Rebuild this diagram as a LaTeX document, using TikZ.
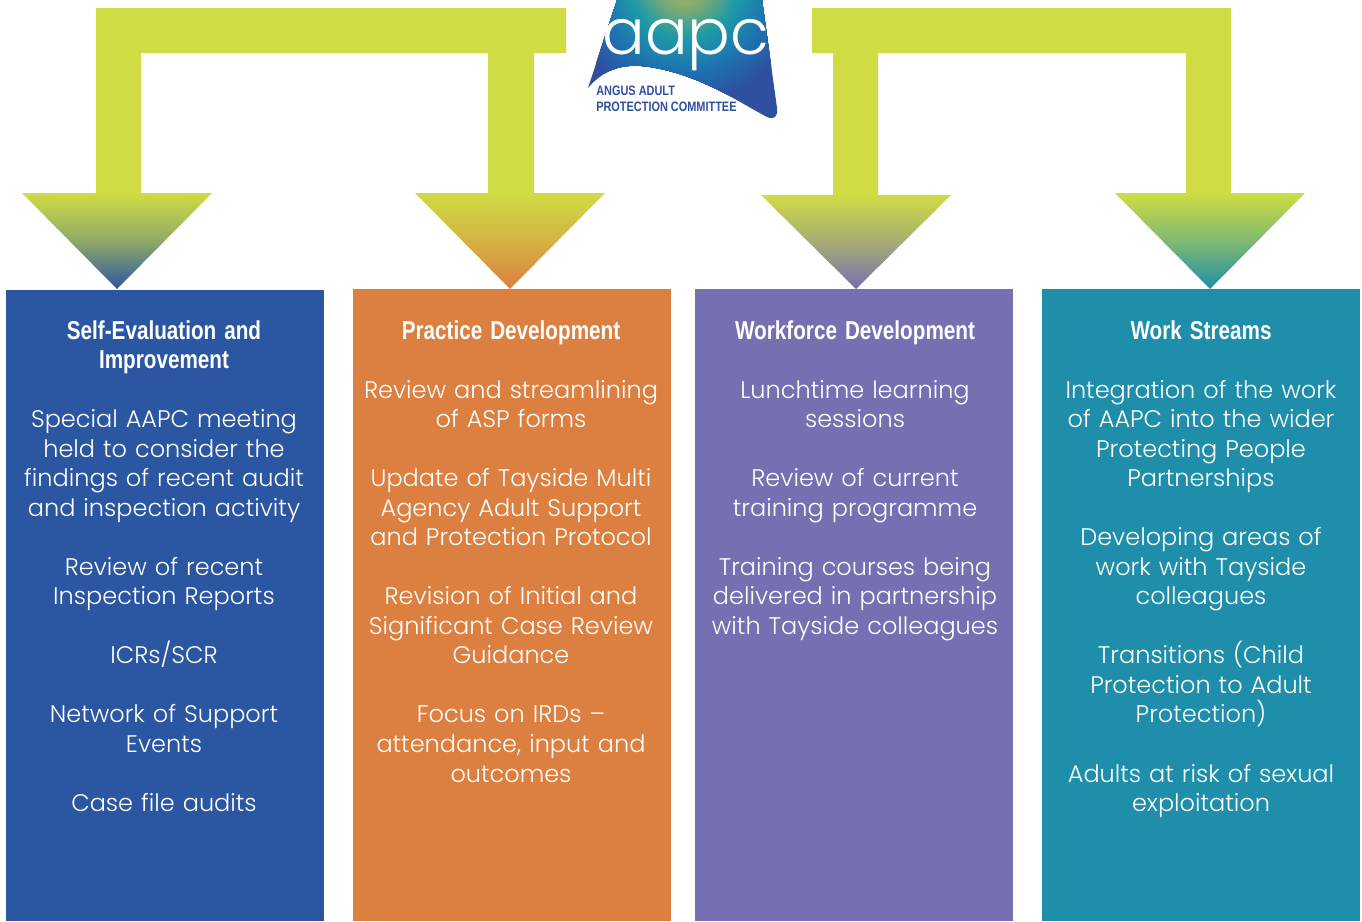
\documentclass[tikz,border=0pt]{standalone}
\usepackage{fontspec}
\setmainfont{Poppins Light}
\newfontfamily\headfont[FakeStretch=0.8]{Liberation Sans Bold}
\newfontfamily\logofont{Poppins Light}
\usetikzlibrary{calc}
\definecolor{limeg}{HTML}{CFDC43}
\definecolor{cblue}{HTML}{2B56A1}
\definecolor{corange}{HTML}{DB8040}
\definecolor{cpurple}{HTML}{7470B1}
\definecolor{cteal}{HTML}{1F8EAA}
\definecolor{logoblue}{HTML}{2F4F9F}
\definecolor{logoteal}{HTML}{1C9AA8}
\definecolor{logomid}{HTML}{1F6FB0}
\definecolor{logoolive}{HTML}{8FAE6A}
\tikzset{
  x=0.75pt,y=-0.75pt,
  column/.style={fill=#1,draw=none},
  bracket/.style={fill=limeg,draw=none},
  body/.style={text=white,align=center,anchor=north,inner sep=0pt,text width=316*0.75pt,
    font=\fontsize{18}{22.15}\selectfont},
  logotext/.style={text=logoblue,anchor=west,inner sep=0pt,font=\headfont\fontsize{10.25}{11}\selectfont},
}
\newcommand{\hd}[1]{{\headfont\fontsize{19.4}{22.15}\selectfont #1}}
\begin{document}
\begin{tikzpicture}
\useasboundingbox (0,0) rectangle (1362,921);
\fill[white] (0,0) rectangle (1362,921);
% columns
\fill[column=cblue] (6,290) rectangle (324,921);
\fill[column=corange] (353,289) rectangle (671,921);
\fill[column=cpurple] (695,289) rectangle (1013,921);
\fill[column=cteal] (1042,289) rectangle (1360,921);
% brackets
\fill[bracket] (96,194) -- (96,8) -- (566,8) -- (566,53) -- (534,53) -- (534,194) -- (488,194) -- (488,53) -- (141,53) -- (141,194) -- cycle;
\fill[bracket] (833,196) -- (833,53) -- (812,53) -- (812,8) -- (1231,8) -- (1231,194) -- (1186,194) -- (1186,53) -- (878,53) -- (878,196) -- cycle;
% arrowheads
\shade[top color=limeg,bottom color=cblue,middle color=limeg!62!cblue] (22,193) -- (212,193) -- (117,289) -- cycle;
\shade[top color=limeg,bottom color=corange,middle color=limeg!55!corange] (415,193) -- (605,193) -- (510,289) -- cycle;
\shade[top color=limeg,bottom color=cpurple,middle color=limeg!55!cpurple] (761,195) -- (951,195) -- (856,289) -- cycle;
\shade[top color=limeg,bottom color=cteal,middle color=limeg!55!cteal] (1115,193) -- (1305,193) -- (1210,289) -- cycle;
% logo
\begin{scope}
\clip (617,0) -- (762,0) -- (777,108) .. controls (778,117) and (774,120) .. (767,117) .. controls (735,100) and (700,75) .. (650,67) .. controls (625,63) and (605,68) .. (588,88) -- cycle;
\fill[logoblue] (580,-5) rectangle (785,125);
\coordinate (glow) at (685,-15);
\foreach \r in {120,118,...,90} {\pgfmathsetmacro\p{(\r-90)/30*100}\fill[logoblue!\p!logomid] (glow) circle [radius=\r];}
\foreach \r in {88,86,...,55} {\pgfmathsetmacro\p{(\r-55)/35*100}\fill[logomid!\p!logoteal] (glow) circle [radius=\r];}
\foreach \r in {53,51,...,20} {\pgfmathsetmacro\p{(\r-20)/35*100}\fill[logoteal!\p!logoolive] (glow) circle [radius=\r];}
\end{scope}
\node[text=white,inner sep=0pt,anchor=base,font=\logofont\fontsize{47.5}{50}\selectfont] (logoword) at (686,54) {aapc};
\node[logotext] (logoa) at (596,91) {ANGUS ADULT};
\node[logotext] (logob) at (596,107) {PROTECTION COMMITTEE};
% texts
\node[body] (t1) at (164,320) {\hd{Self-Evaluation and\\Improvement}\\~\\Special AAPC meeting\\held to consider the\\findings of recent audit\\and inspection activity\\~\\Review of recent\\Inspection Reports\\~\\ICRs/SCR\\~\\Network of Support\\Events\\~\\Case file audits};
\node[body] (t2) at (511,320) {\hd{Practice Development}\\~\\Review and streamlining\\of ASP forms\\~\\Update of Tayside Multi\\Agency Adult Support\\and Protection Protocol\\~\\Revision of Initial and\\Significant Case Review\\Guidance\\~\\Focus on IRDs --\\attendance, input and\\outcomes};
\node[body] (t3) at (855,320) {\hd{Workforce Development}\\~\\Lunchtime learning\\sessions\\~\\Review of current\\training programme\\~\\Training courses being\\delivered in partnership\\with Tayside colleagues};
\node[body] (t4) at (1201,320) {\hd{Work Streams}\\~\\Integration of the work\\of AAPC into the wider\\Protecting People\\Partnerships\\~\\Developing areas of\\work with Tayside\\colleagues\\~\\Transitions (Child\\Protection to Adult\\Protection)\\~\\Adults at risk of sexual\\exploitation};
\end{tikzpicture}
\end{document}
